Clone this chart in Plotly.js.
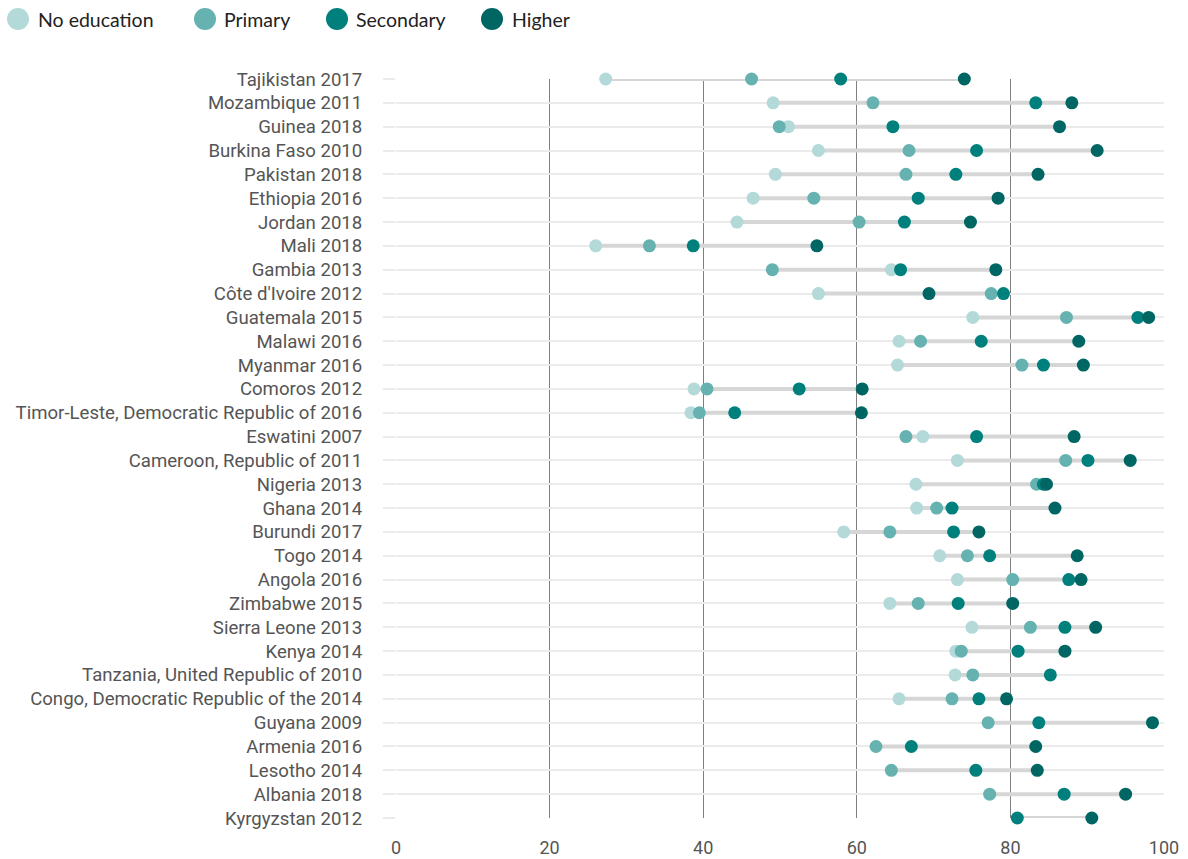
<!DOCTYPE html>
<html>
<head>
<meta charset="utf-8">
<script src="https://cdn.plot.ly/plotly-3.0.1.min.js"></script>
<style>html,body{margin:0;padding:0;background:#fff;}#chart{width:1188px;height:859px;}</style>
</head>
<body>
<div id="chart"></div>
<script>
const categories = [
  "Tajikistan 2017","Mozambique 2011","Guinea 2018","Burkina Faso 2010","Pakistan 2018",
  "Ethiopia 2016","Jordan 2018","Mali 2018","Gambia 2013","Côte d'Ivoire 2012",
  "Guatemala 2015","Malawi 2016","Myanmar 2016","Comoros 2012","Timor-Leste, Democratic Republic of 2016",
  "Eswatini 2007","Cameroon, Republic of 2011","Nigeria 2013","Ghana 2014","Burundi 2017",
  "Togo 2014","Angola 2016","Zimbabwe 2015","Sierra Leone 2013","Kenya 2014",
  "Tanzania, United Republic of 2010","Congo, Democratic Republic of the 2014","Guyana 2009","Armenia 2016","Lesotho 2014",
  "Albania 2018","Kyrgyzstan 2012"
];
const noEducation = [27.3,49.1,51.1,55.0,49.4, 46.5,44.4,26.0,64.5,55.0, 75.1,65.5,65.3,38.8,38.4, 68.6,73.1,67.7,67.8,58.3, 70.8,73.1,64.3,75.0,72.9, 72.8,65.5,null,null,null, null,null];
const primary     = [46.3,62.1,49.9,66.8,66.4, 54.4,60.3,33.0,49.0,77.5, 87.3,68.3,81.5,40.5,39.5, 66.4,87.2,83.4,70.4,64.3, 74.4,80.3,68.0,82.6,73.6, 75.1,72.4,77.1,62.5,64.5, 77.3,null];
const secondary   = [57.9,83.3,64.7,75.6,72.9, 68.0,66.2,38.7,65.7,79.1, 96.6,76.2,84.3,52.5,44.1, 75.6,90.1,84.3,72.4,72.6, 77.3,87.6,73.2,87.1,81.0, 85.2,75.9,83.7,67.1,75.5, 87.0,80.9];
const higher      = [74.0,88.0,86.4,91.3,83.6, 78.4,74.8,54.8,78.1,69.4, 98.0,88.9,89.5,60.7,60.6, 88.3,95.6,84.7,85.8,75.9, 88.7,89.2,80.3,91.1,87.1, null,79.5,98.5,83.3,83.5, 95.0,90.6];

const seriesNames = ["No education","Primary","Secondary","Higher"];
const seriesColors = ["#b3d9d9","#66b2b0","#00807d","#006664"];
const seriesData = [noEducation, primary, secondary, higher];

// plot geometry (pixels) for legend placement
const W = 1188, H = 859, ML = 396, MR = 24, MT = 79, MB = 41;
const PW = W - ML - MR, PH = H - MT - MB;
const px2x = p => (p - ML) / PW;
const py2y = p => (H - MB - p) / PH;

// connector lines from min to max per row
const lx = [], ly = [];
categories.forEach((c, i) => {
  const vals = seriesData.map(s => s[i]).filter(v => v !== null);
  lx.push(Math.min(...vals), Math.max(...vals), null);
  ly.push(c, c, null);
});

const traces = [{
  type: "scatter", mode: "lines", x: lx, y: ly,
  line: {color: "#d6d6d6", width: 4}, showlegend: false, hoverinfo: "skip",
  cliponaxis: false
}];
seriesData.forEach((s, k) => {
  traces.push({
    type: "scatter", mode: "markers", name: seriesNames[k],
    x: s, y: categories,
    marker: {color: seriesColors[k], size: 13},
    cliponaxis: false, showlegend: false
  });
});

// custom legend (larger swatches as in the reference)
const legendCircleX = [18, 205, 337, 492];
const legendTextX = [36, 222, 354, 510];
const legendY = 19;
const shapes = [], annotations = [];
seriesNames.forEach((n, k) => {
  shapes.push({
    type: "circle", xref: "paper", yref: "paper",
    xsizemode: "pixel", ysizemode: "pixel",
    xanchor: px2x(legendCircleX[k]), yanchor: py2y(legendY),
    x0: -11, x1: 11, y0: -11, y1: 11,
    fillcolor: seriesColors[k], line: {width: 0}
  });
  annotations.push({
    xref: "paper", yref: "paper", x: px2x(legendTextX[k]), y: py2y(legendY),
    xanchor: "left", yanchor: "middle", showarrow: false, text: n,
    font: {family: "Lato, sans-serif", size: 19.5, color: "#222"}
  });
});

const layout = {
  width: W, height: H,
  margin: {l: ML, r: MR, t: MT, b: MB},
  paper_bgcolor: "#fff", plot_bgcolor: "#fff",
  showlegend: false,
  shapes: shapes, annotations: annotations,
  xaxis: {
    range: [0, 100], dtick: 20, tick0: 0,
    showgrid: true, gridcolor: "#7f7f7f", gridwidth: 1,
    zeroline: false, showline: false, ticks: "",
    ticklabelstandoff: 17,
    tickfont: {family: "Roboto, sans-serif", size: 18, color: "#555"}
  },
  yaxis: {
    type: "category", range: [31, 0],
    categoryorder: "array", categoryarray: categories,
    showgrid: true, gridcolor: "#ebebeb", gridwidth: 2,
    zeroline: false, showline: false,
    ticks: "outside", ticklen: 12, tickcolor: "#ebebeb", tickwidth: 2,
    ticklabelstandoff: 17,
    tickfont: {family: "Roboto, sans-serif", size: 18.6, color: "#555"}
  }
};

Plotly.newPlot("chart", traces, layout, {displayModeBar: false, staticPlot: true});
</script>
</body>
</html>
